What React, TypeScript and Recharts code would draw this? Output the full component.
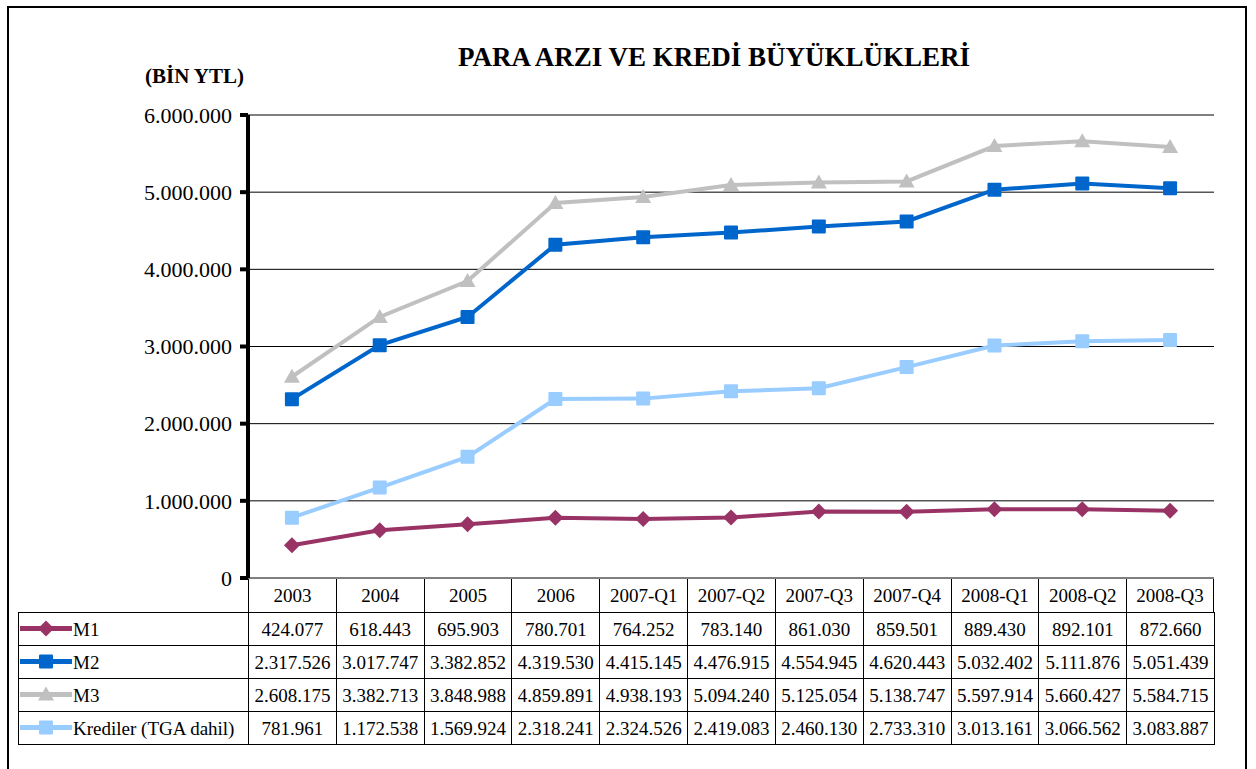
import { CartesianGrid, Line, LineChart, XAxis, YAxis } from "recharts";

const categories = ["2003", "2004", "2005", "2006", "2007-Q1", "2007-Q2", "2007-Q3", "2007-Q4", "2008-Q1", "2008-Q2", "2008-Q3"];
const m1 = [424077, 618443, 695903, 780701, 764252, 783140, 861030, 859501, 889430, 892101, 872660];
const m2 = [2317526, 3017747, 3382852, 4319530, 4415145, 4476915, 4554945, 4620443, 5032402, 5111876, 5051439];
const m3 = [2608175, 3382713, 3848988, 4859891, 4938193, 5094240, 5125054, 5138747, 5597914, 5660427, 5584715];
const krediler = [781961, 1172538, 1569924, 2318241, 2324526, 2419083, 2460130, 2733310, 3013161, 3066562, 3083887];
const yTicks = [0, 1000000, 2000000, 3000000, 4000000, 5000000, 6000000];

const SERIES = [
  { key: "m1", name: "M1", values: m1, color: "#993366", shape: "diamond" },
  { key: "m2", name: "M2", values: m2, color: "#0066CC", shape: "square" },
  { key: "m3", name: "M3", values: m3, color: "#C0C0C0", shape: "triangle" },
  { key: "krediler", name: "Krediler (TGA dahil)", values: krediler, color: "#99CCFF", shape: "square" },
];

const FONT = '"Liberation Serif", "Times New Roman", serif';
const PLOT_LEFT = 248;
const PLOT_RIGHT = 1214;
const PLOT_TOP = 115;
const PLOT_BOTTOM = 578;
const COL_W = (PLOT_RIGHT - PLOT_LEFT) / categories.length;

const fmt = (n: number) => String(n).replace(/\B(?=(\d{3})+(?!\d))/g, ".");

function Marker({ cx, cy, shape, color }: { cx: number; cy: number; shape: string; color: string }) {
  if (shape === "diamond") {
    return <polygon points={`${cx},${cy - 8} ${cx + 8},${cy} ${cx},${cy + 8} ${cx - 8},${cy}`} fill={color} />;
  }
  if (shape === "triangle") {
    return <polygon points={`${cx},${cy - 8} ${cx + 8},${cy + 6} ${cx - 8},${cy + 6}`} fill={color} />;
  }
  return <rect x={cx - 7} y={cy - 7} width={14} height={14} rx={1} fill={color} />;
}

export default function App() {
  const data = categories.map((c, i) => {
    const row: Record<string, number | string> = { name: c };
    SERIES.forEach((s) => {
      row[s.key] = s.values[i];
    });
    return row;
  });

  const headerTop = PLOT_BOTTOM + 1;
  const headerH = 33;
  const rowH = 33;

  return (
    <div style={{ position: "relative", width: 1256, height: 769, fontFamily: FONT, overflow: "hidden" }}>
      <style>{`body{margin:0}`}</style>
      <div
        style={{
          position: "absolute",
          left: 7,
          top: 6,
          width: 1236,
          height: 800,
          border: "2px solid #000",
        }}
      />
      <div
        style={{
          position: "absolute",
          left: 0,
          width: 1428,
          top: 42,
          textAlign: "center",
          fontWeight: "bold",
          fontSize: 27,
          lineHeight: "30px",
          color: "#000",
        }}
      >
        PARA ARZI VE KREDİ BÜYÜKLÜKLERİ
      </div>
      <div style={{ position: "absolute", left: 145, top: 64, fontWeight: "bold", fontSize: 21, lineHeight: "24px" }}>
        (BİN YTL)
      </div>

      <div style={{ position: "absolute", left: 0, top: 0 }}>
        <LineChart
          width={1256}
          height={769}
          data={data}
          margin={{ top: PLOT_TOP, right: 1256 - PLOT_RIGHT, bottom: 769 - PLOT_BOTTOM, left: 148 }}
        >
          <CartesianGrid vertical={false} stroke="#000" strokeWidth={1} />
          <XAxis
            dataKey="name"
            height={0}
            tick={false}
            tickLine={false}
            stroke="#000"
            strokeWidth={4}
            axisLine={{ stroke: "#000", strokeWidth: 4 }}
            padding={{ left: COL_W / 2, right: COL_W / 2 }}
          />
          <YAxis
            width={100}
            domain={[0, 6000000]}
            ticks={yTicks}
            interval={0}
            tickFormatter={(v: number) => fmt(v)}
            tick={{ fill: "#000", fontSize: 22, fontFamily: FONT }}
            tickSize={8}
            tickMargin={8}
            stroke="#000"
            strokeWidth={4}
            tickLine={{ stroke: "#000", strokeWidth: 4 }}
            axisLine={{ stroke: "#000", strokeWidth: 4 }}
          />
          {SERIES.map((s) => (
            <Line
              key={s.key}
              dataKey={s.key}
              name={s.name}
              stroke={s.color}
              strokeWidth={4}
              isAnimationActive={false}
              dot={(p: any) => (
                <Marker key={`${s.key}-${p.index}`} cx={p.cx} cy={p.cy} shape={s.shape} color={s.color} />
              )}
              activeDot={false}
            />
          ))}
        </LineChart>
      </div>

      {/* data table under the axis */}
      {categories.map((c, i) => (
        <div
          key={c}
          style={{
            position: "absolute",
            left: PLOT_LEFT + i * COL_W,
            top: headerTop,
            width: COL_W,
            height: headerH,
            boxSizing: "border-box",
            borderLeft: "1px solid #000",
            borderRight: i === categories.length - 1 ? "1px solid #000" : "none",
            fontSize: 19,
            lineHeight: `${headerH}px`,
            textAlign: "center",
          }}
        >
          {c}
        </div>
      ))}
      {SERIES.map((s, r) => (
        <div key={s.key}>
          <div
            style={{
              position: "absolute",
              left: 18,
              top: headerTop + headerH + r * rowH,
              width: PLOT_LEFT - 18,
              height: rowH + 1,
              boxSizing: "border-box",
              border: "1px solid #000",
              borderRight: "none",
              fontSize: 19,
              lineHeight: `${rowH}px`,
              whiteSpace: "nowrap",
            }}
          >
            <svg width={52} height={rowH - 2} style={{ verticalAlign: "top", marginLeft: 1 }}>
              <line x1={0} x2={52} y1={(rowH - 2) / 2} y2={(rowH - 2) / 2} stroke={s.color} strokeWidth={5} strokeLinecap="round" />
              <Marker cx={26} cy={(rowH - 2) / 2} shape={s.shape} color={s.color} />
            </svg>
            <span style={{ marginLeft: 1 }}>{s.name}</span>
          </div>
          {s.values.map((v, i) => (
            <div
              key={i}
              style={{
                position: "absolute",
                left: PLOT_LEFT + i * COL_W,
                top: headerTop + headerH + r * rowH,
                width: COL_W + 1,
                height: rowH + 1,
                boxSizing: "border-box",
                border: "1px solid #000",
                fontSize: 19,
                lineHeight: `${rowH}px`,
                textAlign: "center",
                whiteSpace: "nowrap",
              }}
            >
              {fmt(v)}
            </div>
          ))}
        </div>
      ))}
    </div>
  );
}
